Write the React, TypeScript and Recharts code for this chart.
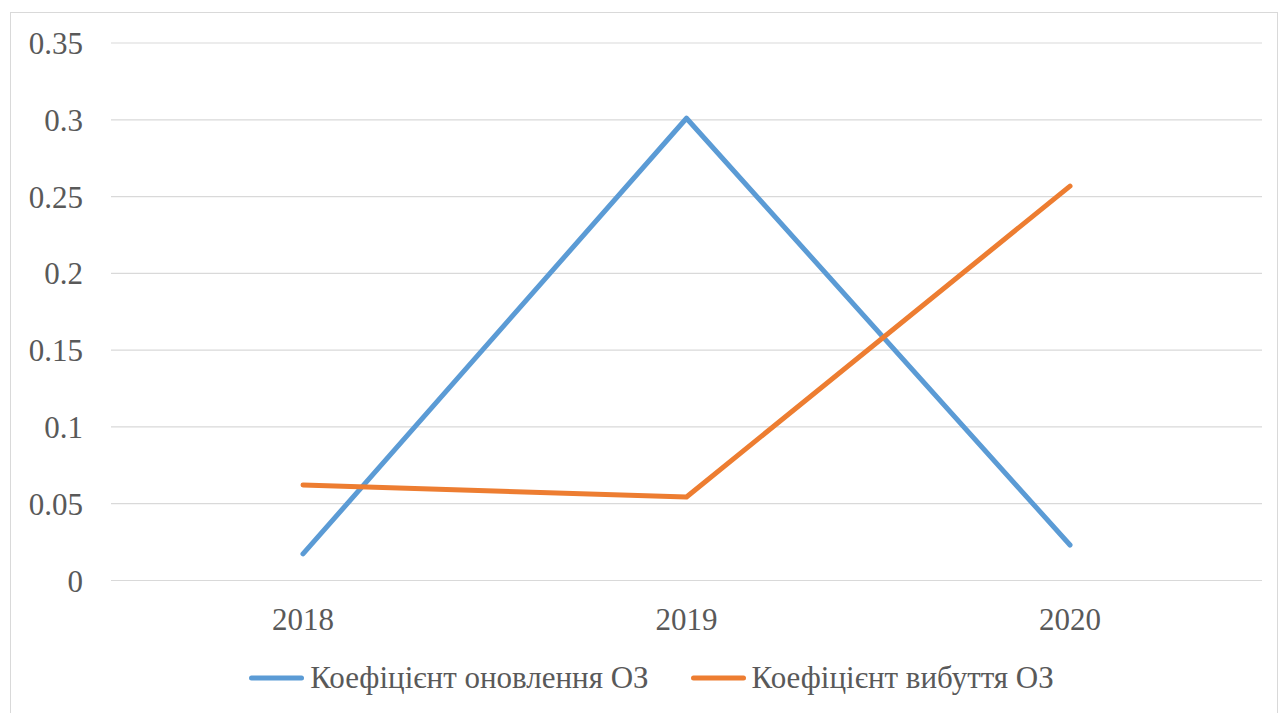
import React from 'react'
import { LineChart, Line, XAxis, YAxis, CartesianGrid, Legend } from 'recharts'

// Data
const years = ['2018', '2019', '2020']
const renewalRate = [0.0173, 0.301, 0.0231]
const disposalRate = [0.0622, 0.0544, 0.2568]
const yTicks = [0, 0.05, 0.1, 0.15, 0.2, 0.25, 0.3, 0.35]

const SERIES = [
  { key: 'renewal', name: 'Коефіцієнт оновлення ОЗ', color: '#5B9BD5' },
  { key: 'disposal', name: 'Коефіцієнт вибуття ОЗ', color: '#ED7D31' }
]

const FONT = "'Times New Roman', Times, Tinos, 'Liberation Serif', 'DejaVu Serif', 'Noto Serif', serif"
const TEXT_COLOR = '#595959'

const chartData = years.map((year, i) => ({
  year,
  renewal: renewalRate[i],
  disposal: disposalRate[i]
}))

const LegendContent = () => (
  <div
    style={{
      display: 'flex',
      justifyContent: 'center',
      alignItems: 'center',
      height: 40,
      fontFamily: FONT,
      fontSize: 31,
      color: TEXT_COLOR
    }}
  >
    {SERIES.map((s, i) => (
      <div
        key={s.key}
        style={{ display: 'flex', alignItems: 'center', marginLeft: i === 0 ? 0 : 42 }}
      >
        <svg width={55} height={10} style={{ marginRight: 6 }}>
          <line x1={2.5} y1={5} x2={52.5} y2={5} stroke={s.color} strokeWidth={5} strokeLinecap="round" />
        </svg>
        <span style={{ whiteSpace: 'nowrap' }}>{s.name}</span>
      </div>
    ))}
  </div>
)

export default function App() {
  return (
    <div
      style={{
        position: 'absolute',
        left: 0,
        top: 0,
        width: 1280,
        height: 713,
        overflow: 'hidden',
        background: '#fff'
      }}
    >
      {/* chart frame, runs off the bottom/right like the reference */}
      <div
        style={{
          position: 'absolute',
          left: 10,
          top: 12,
          width: 1268,
          height: 720,
          border: '1px solid #d9d9d9',
          boxSizing: 'border-box'
        }}
      />
      <div style={{ position: 'absolute', left: 0, top: 0 }}>
        <LineChart
          width={1280}
          height={713}
          data={chartData}
          margin={{ top: 43, right: 18, bottom: 0, left: 0 }}
        >
          <CartesianGrid vertical={false} stroke="#d9d9d9" strokeWidth={1.2} />
          <XAxis
            dataKey="year"
            axisLine={false}
            tickLine={false}
            tickSize={0}
            tickMargin={27}
            height={92.5}
            padding={{ left: 192, right: 192 }}
            tick={{ fill: TEXT_COLOR, fontSize: 31, fontFamily: FONT }}
          />
          <YAxis
            domain={[0, 0.35]}
            ticks={yTicks}
            axisLine={false}
            tickLine={false}
            tickSize={0}
            tickMargin={28}
            width={111}
            tick={{ fill: TEXT_COLOR, fontSize: 31, fontFamily: FONT }}
          />
          <Legend
            verticalAlign="bottom"
            content={<LegendContent />}
            wrapperStyle={{ top: 658, left: 0, width: 1303, height: 40 }}
          />
          {SERIES.map((s) => (
            <Line
              key={s.key}
              type="linear"
              dataKey={s.key}
              name={s.name}
              stroke={s.color}
              strokeWidth={5}
              strokeLinecap="round"
              strokeLinejoin="round"
              dot={false}
              activeDot={false}
              isAnimationActive={false}
            />
          ))}
        </LineChart>
      </div>
    </div>
  )
}
